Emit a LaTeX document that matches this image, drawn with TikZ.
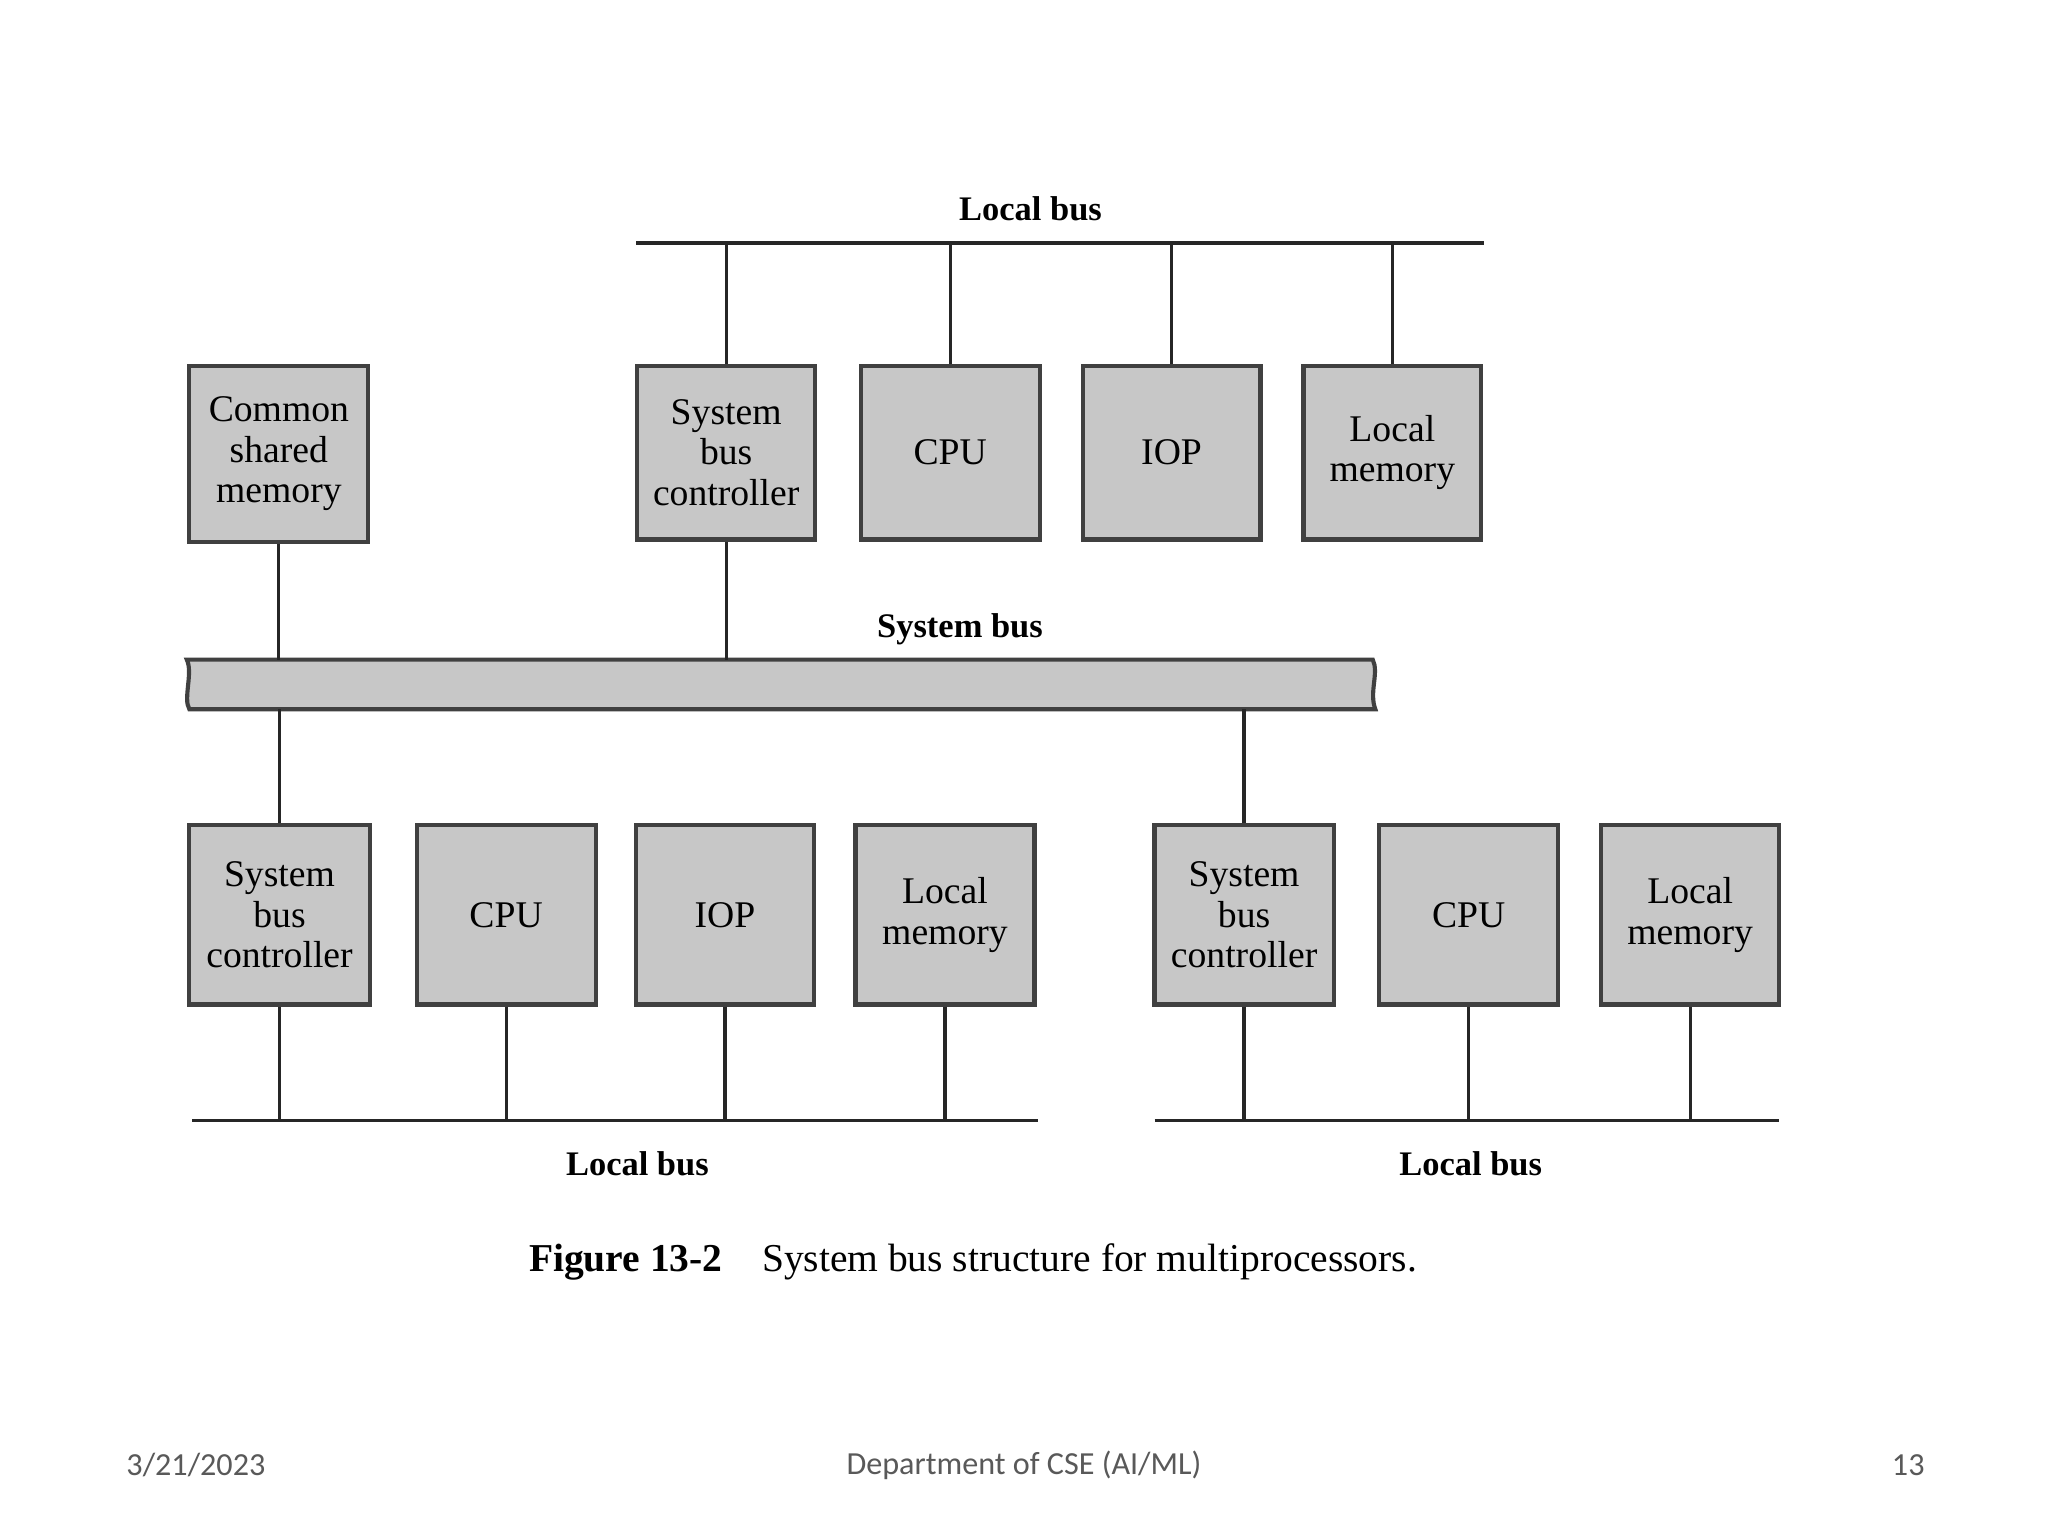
\documentclass[tikz,border=0pt]{standalone}
\usepackage{fontspec}
\setmainfont{Liberation Serif}
\newfontfamily\footfont{Carlito}
\begin{document}
\begin{tikzpicture}[x=0.01cm,y=-0.01cm,
  box/.style={draw=black!75,line width=0.9pt,fill=black!22,align=center,font=\fontsize{8.2}{8.8}\selectfont,inner sep=0pt},
  wire/.style={draw=black!85,line width=0.7pt},
  lbl/.style={font=\bfseries\fontsize{7.5}{9}\selectfont},
  foot/.style={font=\footfont\fontsize{7}{8}\selectfont,text=black!65}]
\fill[white] (0,0) rectangle (1568,1176);
\useasboundingbox (0,0) rectangle (1568,1176);
% top row
\node[box,minimum width=1.37cm,minimum height=1.35cm] (csm) at (213.5,347.5) {Common\\shared\\memory};
\node[box,minimum width=1.36cm,minimum height=1.33cm] (tsbc) at (556,346.5) {System\\bus\\controller};
\node[box,minimum width=1.37cm,minimum height=1.33cm] (tcpu) at (727.5,346.5) {CPU};
\node[box,minimum width=1.36cm,minimum height=1.33cm] (tiop) at (897,346.5) {IOP};
\node[box,minimum width=1.36cm,minimum height=1.33cm] (tlm) at (1066,346.5) {Local\\memory};
% top local bus
\coordinate (tbl) at (487,186); \coordinate (tbr) at (1136,186);
\draw[wire] (tbl) -- (tbr);
\node[lbl] (tlb) at (789,160) {Local bus};
\foreach \n in {tsbc,tcpu,tiop,tlm} \draw[wire] (\n.north) -- (\n.north |- tbl);
% system bus
\draw[draw=black!75,line width=0.9pt,fill=black!22] (143,505) .. controls (148,515) and (140,535) .. (145,543) -- (1053,543) .. controls (1048,530) and (1056,515) .. (1051,505) -- cycle;
\coordinate (sbt) at (0,505); \coordinate (sbb) at (0,543);
\node[lbl] (sbl) at (735,482) {System bus};
% bottom row
\node[box,minimum width=1.38cm,minimum height=1.37cm] (b1) at (214,700.5) {System\\bus\\controller};
\node[box,minimum width=1.37cm,minimum height=1.37cm] (b2) at (387.5,700.5) {CPU};
\node[box,minimum width=1.36cm,minimum height=1.37cm] (b3) at (555,700.5) {IOP};
\node[box,minimum width=1.37cm,minimum height=1.37cm] (b4) at (723.5,700.5) {Local\\memory};
\node[box,minimum width=1.37cm,minimum height=1.37cm] (c1) at (952.5,700.5) {System\\bus\\controller};
\node[box,minimum width=1.37cm,minimum height=1.37cm] (c2) at (1124.5,700.5) {CPU};
\node[box,minimum width=1.36cm,minimum height=1.37cm] (c3) at (1294,700.5) {Local\\memory};
% connections to system bus
\draw[wire] (csm.south) -- (csm.south |- sbt);
\draw[wire] (tsbc.south) -- (tsbc.south |- sbt);
\draw[wire] (b1.north) -- (b1.north |- sbb);
\draw[wire] (c1.north) -- (c1.north |- sbb);
% bottom local buses
\coordinate (bl1) at (147,858); \coordinate (br1) at (795,858);
\coordinate (bl2) at (884,858); \coordinate (br2) at (1362,858);
\draw[wire] (bl1) -- (br1);
\draw[wire] (bl2) -- (br2);
\foreach \n in {b1,b2,b3,b4,c1,c2,c3} \draw[wire] (\n.south) -- (\n.south |- bl1);
\node[lbl] (lb1) at (488,891) {Local bus};
\node[lbl] (lb2) at (1126,891) {Local bus};
\node[font=\fontsize{8.6}{10}\selectfont] (cap) at (745,966) {\textbf{Figure 13-2}\quad System bus structure for multiprocessors.};
% footer
\node[foot] (f1) at (150,1122) {3/21/2023};
\node[foot] (f2) at (784,1122) {Department of CSE (AI/ML)};
\node[foot] (f3) at (1461,1122) {13};
\end{tikzpicture}
\end{document}
